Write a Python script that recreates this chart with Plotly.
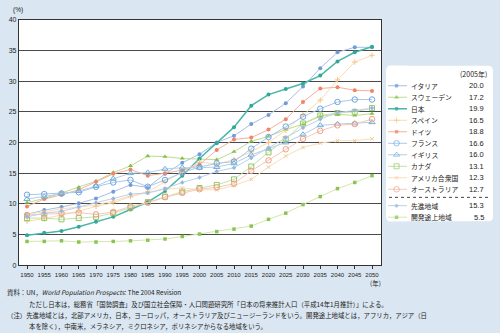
import plotly.graph_objects as go

W, H = 500, 333

years = list(range(1950, 2051, 5))

# Share of population aged 65+ (%)
italy = [8.3, 9.0, 9.5, 10.1, 10.9, 12.0, 13.1, 12.7, 14.9, 16.7, 18.1, 20.0, 21.1, 23.0, 24.5, 26.4, 29.1, 32.1, 34.7, 35.5, 35.5]
sweden = [10.2, 10.9, 11.8, 12.7, 13.7, 15.1, 16.2, 17.8, 17.7, 17.4, 17.3, 17.2, 18.5, 20.2, 21.0, 22.1, 23.0, 24.3, 24.6, 24.4, 24.7]
japan = [4.9, 5.3, 5.6, 6.3, 7.1, 7.9, 9.1, 10.3, 12.1, 14.6, 17.4, 19.9, 22.5, 26.0, 27.8, 28.7, 29.6, 30.9, 33.2, 34.7, 35.6]
spain = [7.2, 7.6, 8.2, 8.8, 9.6, 10.2, 11.2, 12.0, 13.6, 15.2, 16.8, 16.5, 17.2, 18.5, 20.0, 22.0, 24.5, 26.9, 30.2, 33.1, 34.2]
germany = [9.6, 10.8, 11.5, 12.3, 13.6, 14.9, 15.6, 14.6, 15.0, 15.5, 16.4, 18.8, 20.5, 20.8, 22.1, 23.8, 26.6, 28.8, 29.0, 28.5, 28.4]
france = [11.5, 11.6, 11.7, 11.9, 12.8, 13.5, 13.9, 12.8, 13.9, 15.1, 16.0, 16.6, 16.9, 19.0, 20.9, 22.6, 24.2, 25.5, 26.6, 27.0, 27.0]
uk = [10.8, 11.2, 11.7, 12.1, 12.9, 14.1, 15.0, 15.1, 15.7, 15.9, 15.9, 16.0, 16.6, 18.0, 19.0, 20.0, 21.3, 22.8, 23.0, 23.1, 23.3]
canada = [7.7, 7.7, 7.5, 7.7, 7.9, 8.5, 9.4, 10.3, 11.2, 12.0, 12.6, 13.1, 14.0, 16.1, 18.4, 20.6, 23.1, 24.4, 24.8, 25.0, 25.6]
usa = [8.3, 8.8, 9.2, 9.5, 9.8, 10.5, 11.3, 11.8, 12.4, 12.6, 12.3, 12.3, 13.0, 14.0, 16.0, 17.8, 19.2, 19.9, 20.3, 20.3, 20.6]
australia = [8.2, 8.3, 8.5, 8.6, 8.3, 8.7, 9.6, 10.2, 11.1, 11.8, 12.4, 12.7, 13.3, 15.4, 17.1, 18.9, 20.6, 21.9, 22.8, 23.0, 23.8]
developed = [7.9, 8.5, 8.8, 9.5, 10.2, 10.9, 11.6, 11.8, 12.5, 13.5, 14.3, 15.3, 15.9, 17.5, 19.1, 20.8, 22.4, 23.8, 24.9, 25.2, 25.6]
developing = [3.9, 3.9, 4.0, 3.8, 3.8, 3.9, 4.0, 4.1, 4.3, 4.7, 5.1, 5.5, 5.9, 6.4, 7.5, 8.5, 9.9, 11.2, 12.5, 13.5, 14.6]

names = ["イタリア", "スウェーデン", "日本", "スペイン", "ドイツ", "フランス", "イギリス",
         "カナダ", "アメリカ合衆国", "オーストラリア", "先進地域", "開発途上地域"]
values_2005 = ["20.0", "17.2", "19.9", "16.5", "18.8", "16.6", "16.0", "13.1", "12.3", "12.7", "15.3", "5.5"]
series = [italy, sweden, japan, spain, germany, france, uk, canada, usa, australia, developed, developing]

# line colour, marker colour, marker symbol, marker size, line width
styles = [
    ("#a6c0e4", "#6f9cd8", "circle", 4, 1.0),
    ("#bcdc94", "#86c040", "triangle-up", 4.5, 1.0),
    ("#48b8a8", "#33a898", "circle", 4, 1.5),
    ("#f9dcb0", "#f6c485", "cross-thin-open", 4, 1.0),
    ("#f5b09a", "#ef8466", "circle", 4, 1.0),
    ("#a8c8ec", "#6ea4de", "circle-open", 5.5, 1.0),
    ("#b0d0ea", "#72b0da", "triangle-up-open", 5.5, 1.0),
    ("#c8e0a8", "#94c664", "square-open", 5, 1.0),
    ("#f9dfb8", "#f6c890", "x-thin-open", 3.5, 1.0),
    ("#f8c8b8", "#f29c84", "circle-open", 5.5, 1.0),
    ("#bcd0ec", "#9ab6e0", "diamond", 3.5, 1.0),
    ("#d4e8a8", "#8cc454", "square", 3.5, 1.0),
]

# plot region in pixels
PL, PR, PT, PB = 19, 381, 16, 267
# legend box in pixels
LX0, LX1, LY0, LY1 = 386, 493, 63, 222
row0, row_step = 83.5, 11.75


def px(x):
    return x / W


def py(y):
    return 1 - y / H


fig = go.Figure()

for name, ys, (lc, mc, sym, ms, lw) in zip(names, series, styles):
    open_sym = sym.endswith("open")
    fig.add_trace(go.Scatter(
        x=years, y=ys, mode="lines+markers", name=name, showlegend=False,
        line=dict(color=lc, width=lw),
        marker=dict(symbol=sym, size=ms, color=mc,
                    line=dict(color=mc, width=1 if open_sym else 0)),
        xaxis="x", yaxis="y", cliponaxis=False,
    ))

# legend key samples on their own small axes
row_y = []
for i in range(len(names)):
    r = row0 + i * row_step + (5 if i >= 10 else 0)
    row_y.append(r)
for name, r, (lc, mc, sym, ms, lw) in zip(names, row_y, styles):
    open_sym = sym.endswith("open")
    fig.add_trace(go.Scatter(
        x=[0, 0.45, 1], y=[r, r, r], mode="lines+markers", showlegend=False,
        line=dict(color=lc, width=lw),
        marker=dict(symbol=sym, size=[0, ms, 0], color=mc,
                    line=dict(color=mc, width=1 if open_sym else 0)),
        xaxis="x2", yaxis="y2", hoverinfo="skip",
    ))

shapes = []
# rounded legend background
rad = 5
x0, x1, y0, y1 = px(LX0), px(LX1), py(LY1), py(LY0)
rx, ry = rad / W, rad / H
path = (f"M {x0+rx},{y0} L {x1-rx},{y0} Q {x1},{y0} {x1},{y0+ry} "
        f"L {x1},{y1-ry} Q {x1},{y1} {x1-rx},{y1} L {x0+rx},{y1} "
        f"Q {x0},{y1} {x0},{y1-ry} L {x0},{y0+ry} Q {x0},{y0} {x0+rx},{y0} Z")
shapes.append(dict(type="path", path=path, xref="paper", yref="paper",
                   fillcolor="white", line=dict(width=0), layer="below"))
# dashed separator in legend
shapes.append(dict(type="line", xref="paper", yref="paper",
                   x0=px(389), x1=px(490), y0=py(197.5), y1=py(197.5),
                   line=dict(color="#444", width=1, dash="dot")))

annotations = []
font_jp = "Noto Sans CJK JP"
annotations.append(dict(text="(2005年)", x=px(489), y=py(72), xref="paper", yref="paper",
                        xanchor="right", yanchor="middle", showarrow=False,
                        font=dict(family=font_jp, size=7, color="#222")))
for name, val, r in zip(names, values_2005, row_y):
    annotations.append(dict(text=name, x=px(409), y=py(r), xref="paper", yref="paper",
                            xanchor="left", yanchor="middle", showarrow=False,
                            font=dict(family=font_jp, size=6.8, color="#222")))
    annotations.append(dict(text=val, x=px(486), y=py(r), xref="paper", yref="paper",
                            xanchor="right", yanchor="middle", showarrow=False,
                            font=dict(family="Liberation Sans", size=7.5, color="#222")))

annotations.append(dict(text="(%)", x=px(18), y=py(6), xref="paper", yref="paper",
                        xanchor="center", yanchor="middle", showarrow=False,
                        font=dict(family="Liberation Sans", size=6.5, color="#222")))
annotations.append(dict(text="(年)", x=px(375), y=py(285), xref="paper", yref="paper",
                        xanchor="center", yanchor="middle", showarrow=False,
                        font=dict(family=font_jp, size=6.5, color="#222")))

notes = [
    (5, 295, "資料：UN，<i>World Population Prospects</i>: The 2004 Revision"),
    (27, 306.5, "ただし日本は，総務省「国勢調査」及び国立社会保障・人口問題研究所「日本の将来推計人口（平成14年1月推計）」による。"),
    (5, 318, "（注）先進地域とは，北部アメリカ，日本，ヨーロッパ，オーストラリア及びニュージーランドをいう。開発途上地域とは，アフリカ，アジア（日"),
    (27, 329, "本を除く），中南米，メラネシア，ミクロネシア，ポリネシアからなる地域をいう。"),
]
for nx, ny, t in notes:
    annotations.append(dict(text=t, x=px(nx), y=py(ny), xref="paper", yref="paper",
                            xanchor="left", yanchor="middle", showarrow=False,
                            font=dict(family=font_jp, size=6.4, color="#222")))

# year axis range: 1950 sits 8 px right of the frame, 2050 sits 9 px left of it
ppy = (372 - 27) / 100.0
x_lo = 1950 - (27 - PL) / ppy
x_hi = 2050 + (PR - 372) / ppy

fig.update_layout(
    width=W, height=H,
    margin=dict(l=0, r=0, t=0, b=0),
    paper_bgcolor="#dae6f1",
    plot_bgcolor="white",
    shapes=shapes,
    annotations=annotations,
    xaxis=dict(domain=[px(PL), px(PR)], range=[x_lo, x_hi], tickmode="array",
               tickvals=years, ticktext=[str(y) for y in years], tickangle=0,
               ticks="outside", ticklen=3, tickcolor="#333", tickwidth=1,
               showline=True, linecolor="#333", linewidth=1.2, mirror=True,
               showgrid=False, zeroline=False,
               tickfont=dict(family="Liberation Sans Narrow, Liberation Sans", size=6, color="#222"),
               fixedrange=True),
    yaxis=dict(domain=[py(PB), py(PT)], range=[0, 40], tickmode="array",
               tickvals=list(range(0, 41, 5)),
               showline=True, linecolor="#333", linewidth=1.2, mirror=True,
               showgrid=True, gridcolor="#4a4a4a", gridwidth=1.3, zeroline=False,
               ticks="", tickfont=dict(family="Liberation Sans", size=7, color="#222"),
               fixedrange=True),
    xaxis2=dict(domain=[px(388), px(407)], range=[0, 1], visible=False, anchor="y2", fixedrange=True),
    yaxis2=dict(domain=[py(LY1), py(LY0)], range=[LY1, LY0], visible=False, anchor="x2", fixedrange=True),
)

fig.write_html("out.html")
